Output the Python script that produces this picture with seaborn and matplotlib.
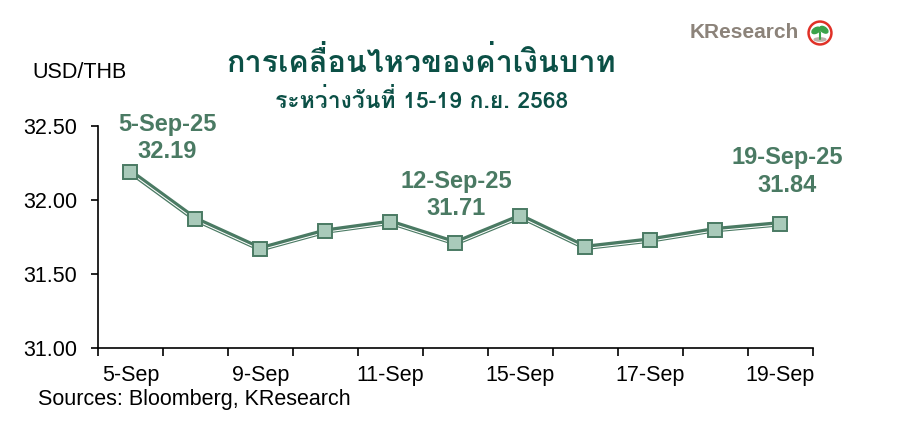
import matplotlib
matplotlib.use("Agg")
import matplotlib.pyplot as plt
import matplotlib.transforms as mtransforms
from matplotlib.patches import Circle, Ellipse
import pandas as pd
import seaborn as sns

# --- datos ---
dates = ["5-Sep", "8-Sep", "9-Sep", "10-Sep", "11-Sep", "12-Sep",
         "15-Sep", "16-Sep", "17-Sep", "18-Sep", "19-Sep"]
usd_thb = [32.19, 31.87, 31.67, 31.79, 31.85, 31.71, 31.89, 31.68, 31.73, 31.80, 31.84]
y_ticks = [31.00, 31.50, 32.00, 32.50]

# etiquetas destacadas: (indice, texto, desplazamiento en px)
callouts = [(0, "5-Sep-25\n32.19", (37, 34)),
            (5, "12-Sep-25\n31.71", (1, 48)),
            (10, "19-Sep-25\n31.84", (7, 52))]

title = "การเคลื่อนไหวของค่าเงินบาท"
subtitle = "ระหว่างวันที่ 15-19 ก.ย. 2568"

dark = "#4A7A63"
fill = "#A9CABA"
title_col = "#0B5046"
thai_font = ["Loma", "Noto Sans Thai Looped", "DejaVu Sans"]

sns.set_style("white")
plt.rcParams["font.family"] = ["Liberation Sans", "DejaVu Sans"]
plt.rcParams["text.color"] = "black"
plt.rcParams["xtick.color"] = "black"
plt.rcParams["ytick.color"] = "black"

df = pd.DataFrame({"pos": range(len(dates)), "rate": usd_thb})

fig = plt.figure(figsize=(9.03, 4.24), dpi=100)
ax = fig.add_axes([98 / 903, 1 - 348 / 424, 715 / 903, 222 / 424])

sns.lineplot(data=df, x="pos", y="rate", ax=ax, color=dark, lw=3.9, zorder=3)
# linea blanca fina dentro del trazo (efecto doble linea)
shift = mtransforms.offset_copy(ax.transData, fig=fig, x=0, y=-1.1, units="dots")
ax.plot(df["pos"], df["rate"], color="white", lw=0.75, transform=shift, zorder=3.5)
ax.plot(df["pos"], df["rate"], ls="none", marker="s", markersize=9.5,
        markerfacecolor=fill, markeredgecolor=dark, markeredgewidth=1.4, zorder=4)

ax.set_xlim(-0.5, len(dates) - 0.5)
ax.set_ylim(31.0, 32.5)
ax.set_yticks(y_ticks)
ax.set_yticklabels([f"{v:.2f}" for v in y_ticks])

# marcas entre categorias, etiquetas cada dos dias
ax.set_xticks([i - 0.5 for i in range(len(dates) + 1)])
ax.set_xticklabels([])
ax.set_xticks(list(range(0, len(dates), 2)), minor=True)
ax.set_xticklabels(dates[::2], minor=True)
ax.tick_params(axis="x", which="major", bottom=True, direction="out", length=5.5,
               width=1.2, color="black")
ax.tick_params(axis="x", which="minor", bottom=True, length=0, pad=12,
               labelsize=15.5, labelcolor="black")
ax.tick_params(axis="y", left=True, direction="out", length=5, width=1.2,
               color="black", pad=10, labelsize=15.5, labelcolor="black")

for s in ["top", "right"]:
    ax.spines[s].set_visible(False)
for s in ["left", "bottom"]:
    ax.spines[s].set_color("black")
    ax.spines[s].set_linewidth(1.2)
ax.set_xlabel("")
ax.set_ylabel("")

for idx, txt, off in callouts:
    ax.annotate(txt, (idx, usd_thb[idx]), xytext=off, textcoords="offset pixels",
                ha="center", va="center", fontsize=17, fontweight="bold",
                color=dark, linespacing=1.25)

fig.text(32 / 903, 1 - 72 / 424, "USD/THB", fontsize=15.5, va="center", ha="left",
         color="black")
fig.text(38 / 903, 1 - 399 / 424, "Sources: Bloomberg, KResearch", fontsize=15.5,
         va="center", ha="left", color="black")

fig.text(421 / 903, 1 - 63 / 424, title, family=thai_font, fontsize=22,
         fontweight="bold", color=title_col, ha="center", va="center")
fig.text(422 / 903, 1 - 100 / 424, subtitle, family=thai_font, fontsize=16.5,
         fontweight="bold", color=title_col, ha="center", va="center")

# logo KResearch
fig.text(690 / 903, 1 - 33 / 424, "KResearch", fontsize=15, fontweight="bold",
         color="#8C837A", ha="left", va="center")
lax = fig.add_axes([807 / 903, 1 - 46 / 424, 26 / 903, 26 / 424])
lax.set_xlim(-1, 1)
lax.set_ylim(-1, 1)
lax.set_aspect("equal")
lax.axis("off")
lax.add_patch(Circle((0, 0), 0.88, fill=False, ec="#E03127", lw=1.8))
lax.add_patch(Ellipse((-0.3, 0.2), 0.7, 0.4, angle=30, color="#3BA34A"))
lax.add_patch(Ellipse((0.3, 0.25), 0.7, 0.4, angle=-35, color="#3BA34A"))
lax.plot([0, 0], [-0.45, 0.1], color="#3BA34A", lw=1.5)
lax.add_patch(Ellipse((0, -0.5), 0.9, 0.25, color="#B9B0A8"))

fig.savefig("out.png", dpi=100)
